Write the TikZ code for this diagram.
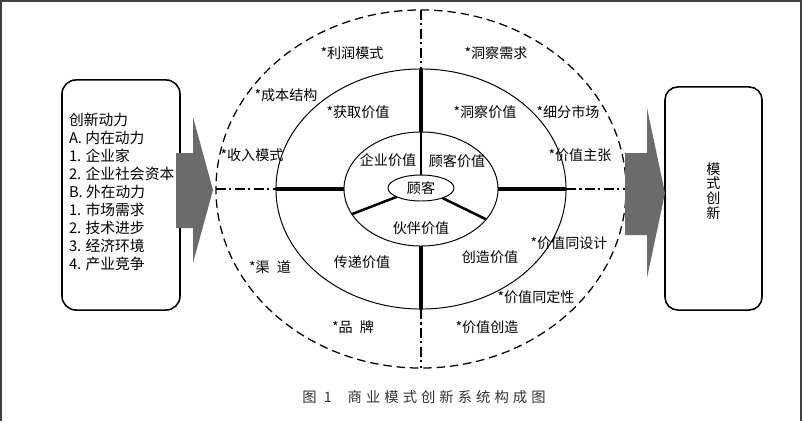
\documentclass[tikz,border=0pt]{standalone}
\usepackage{fontspec}
\setmainfont{Noto Sans CJK SC}
\newfontfamily\capfont[LetterSpace=28]{Noto Sans CJK SC}
\usetikzlibrary{shapes.geometric}

\begin{document}
\begin{tikzpicture}[x=0.025cm,y=-0.025cm,semithick,every node/.style={inner sep=0,outer sep=0,font=\fontsize{10}{12}\selectfont},
ring/.style={ellipse,draw,line width=0.7pt},
spoke/.style={line width=2.6pt},
axis/.style={line width=1.2pt,dash pattern=on 7pt off 2.5pt on 1.5pt off 2.5pt},
box/.style={draw,line width=1.1pt,rounded corners=0.35cm},
blockarrow/.style={fill=black!58}]
\useasboundingbox (0,0) rectangle (802,421);
\draw [black!75,line width=1.4pt] (1,421) -- (1,1) -- (801,1) -- (801,421);
\node (outer) at (421,189) [ring,dashed,line width=0.9pt,dash pattern=on 6pt off 3.5pt,minimum width=10.25cm,minimum height=8.95cm] {};
\node (mid) at (421,189) [ring,minimum width=7.25cm,minimum height=6cm] {};
\node (inner) at (421,189) [ring,minimum width=3.85cm,minimum height=2.85cm] {};
\node (cust) at (421,188) [ring,minimum width=1.65cm,minimum height=0.65cm] {顾客};
\draw [axis] (outer.north) -- (mid.north);
\draw [axis] (mid.south) -- (outer.south);
\draw [axis] (outer.west) -- (mid.west);
\draw [axis] (mid.east) -- (outer.east);
\draw [spoke] (mid.north) -- (inner.north);
\draw [spoke] (inner.south) -- (mid.south);
\draw [spoke] (mid.west) -- (inner.west);
\draw [spoke] (inner.east) -- (mid.east);
\draw [line width=1.2pt] (inner.north) -- (cust.north);
\draw [line width=1.8pt] (cust.-160) -- (inner.-160);
\draw [line width=1.8pt] (cust.-25) -- (inner.-25);
\node (l1) at (352,53) {*利润模式};
\node (l2) at (496,53) {*洞察需求};
\node (l3) at (286,95) {*成本结构};
\node (l4) at (358,112) {*获取价值};
\node (l5) at (485,112) {*洞察价值};
\node (l6) at (568,112) {*细分市场};
\node (l7) at (252,155) {*收入模式};
\node (l8) at (580,155) {*价值主张};
\node (l9) at (388,160) {企业价值};
\node (l10) at (457,161) {顾客价值};
\node (l11) at (421,228) {伙伴价值};
\node (l12) at (569,243) {*价值同设计};
\node (l13) at (362,262) {传递价值};
\node (l14) at (490,257) {创造价值};
\node (l15) at (270,267) {*渠\enspace 道};
\node (l16) at (536,297) {*价值同定性};
\node (l17) at (353,327) {*品\enspace 牌};
\node (l18) at (487,327) {*价值创造};
\node (src) at (121,195) [box,minimum width=2.95cm,minimum height=5.75cm] {};
\node (drv) at (69,192) [anchor=west,align=left,font=\fontsize{10.5}{12.8}\selectfont] {创新动力\\A. 内在动力\\1. 企业家\\2. 企业社会资本\\B. 外在动力\\1. 市场需求\\2. 技术进步\\3. 经济环境\\4. 产业竞争};
\node (dst) at (713.5,198.5) [box,rounded corners=0.32cm,minimum width=2.425cm,minimum height=5.575cm] {};
\node (inno) at (713.5,191) [align=center,font=\fontsize{10}{10.6}\selectfont] {模\\式\\创\\新};
\fill [blockarrow] (176,153) -- (193,153) -- (193,117) -- (213,190) -- (193,263) -- (193,228) -- (176,228) -- cycle;
\fill [blockarrow] (625,153) -- (647,153) -- (647,108) -- (665,193) -- (647,278) -- (647,235) -- (625,235) -- cycle;
\node (cap) at (424,397) [text=black!80] {\capfont\fontsize{10.2}{12}\selectfont 图 1\hspace{1.1em}商业模式创新系统构成图};
\end{tikzpicture}
\end{document}
